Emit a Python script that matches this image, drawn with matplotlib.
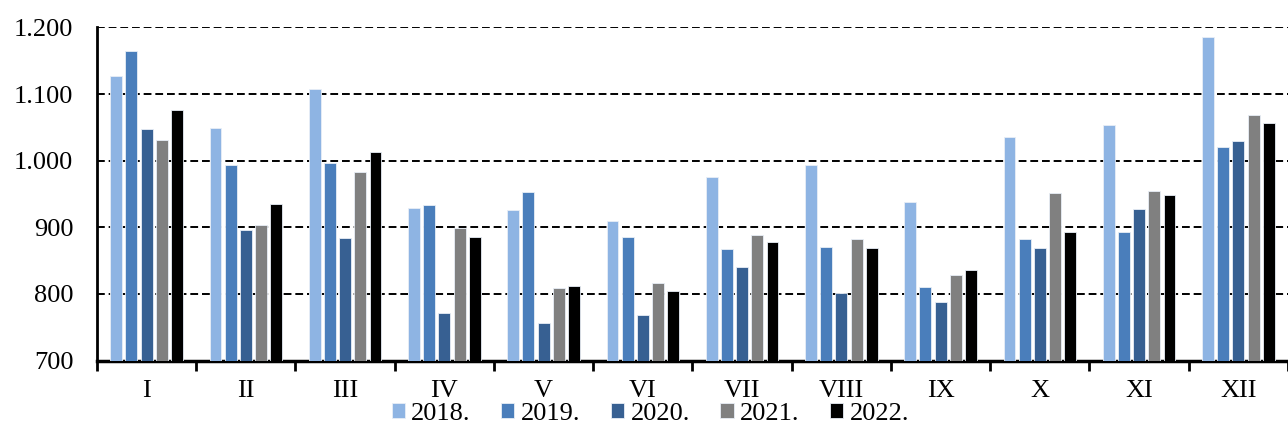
import numpy as np
from matplotlib import pyplot as plt
from matplotlib.ticker import FuncFormatter, FixedLocator

months = ['I', 'II', 'III', 'IV', 'V', 'VI', 'VII', 'VIII', 'IX', 'X', 'XI', 'XII']
years = ['2018.', '2019.', '2020.', '2021.', '2022.']

v2018 = [1127, 1049, 1108, 929, 926, 910, 976, 993, 938, 1035, 1053, 1185]
v2019 = [1165, 994, 997, 933, 953, 886, 868, 870, 811, 882, 893, 1020]
v2020 = [1047, 896, 884, 772, 756, 769, 840, 802, 788, 869, 928, 1029]
v2021 = [1031, 903, 983, 899, 809, 817, 889, 882, 829, 951, 955, 1068]
v2022 = [1076, 935, 1013, 886, 812, 805, 878, 869, 836, 893, 948, 1057]

series = [v2018, v2019, v2020, v2021, v2022]
colors = ['#8EB4E3', '#4A7EBB', '#376092', '#808080', '#000000']

plt.rcParams['font.family'] = ['Liberation Serif', 'DejaVu Serif']

fig = plt.figure(figsize=(12.88, 4.33), dpi=100)
ax = fig.add_axes([0.0753, 0.1674, 0.9247, 0.7691])

xs = np.arange(len(months))
step = 0.153
width = 0.12
for k, (vals, col, lab) in enumerate(zip(series, colors, years)):
    ax.bar(xs + (k - 2) * step, np.array(vals) - 700, width, bottom=700,
           color=col, edgecolor='#e8eef6', linewidth=0.6, label=lab, zorder=3)

ax.set_xlim(-0.5, 11.5)
ax.set_ylim(700, 1200)
ax.set_yticks([700, 800, 900, 1000, 1100, 1200])
ax.yaxis.set_major_formatter(FuncFormatter(lambda v, p: f'{int(v):,}'.replace(',', '.')))
ax.grid(axis='y', color='black', linestyle=(0, (4, 2)), linewidth=1.4, zorder=1)

ax.set_xticks(xs)
ax.set_xticklabels(months)
ax.xaxis.set_minor_locator(FixedLocator(np.arange(-0.5, 12, 1)))
ax.tick_params(axis='x', which='major', length=0, pad=14, labelsize=19)
ax.tick_params(axis='x', which='minor', length=7, width=2, direction='out')
ax.tick_params(axis='y', length=0, pad=17, labelsize=19)

for s in ['top', 'right']:
    ax.spines[s].set_visible(False)
ax.spines['left'].set_linewidth(2)
ax.spines['bottom'].set_linewidth(2.5)

fig.legend(loc='lower center', bbox_to_anchor=(0.505, -0.012), ncol=5, frameon=False,
           fontsize=19, handlelength=0.5, handleheight=0.5, handletextpad=0.25,
           columnspacing=1.15, borderaxespad=0.1)

plt.savefig('out.png', dpi=100)
